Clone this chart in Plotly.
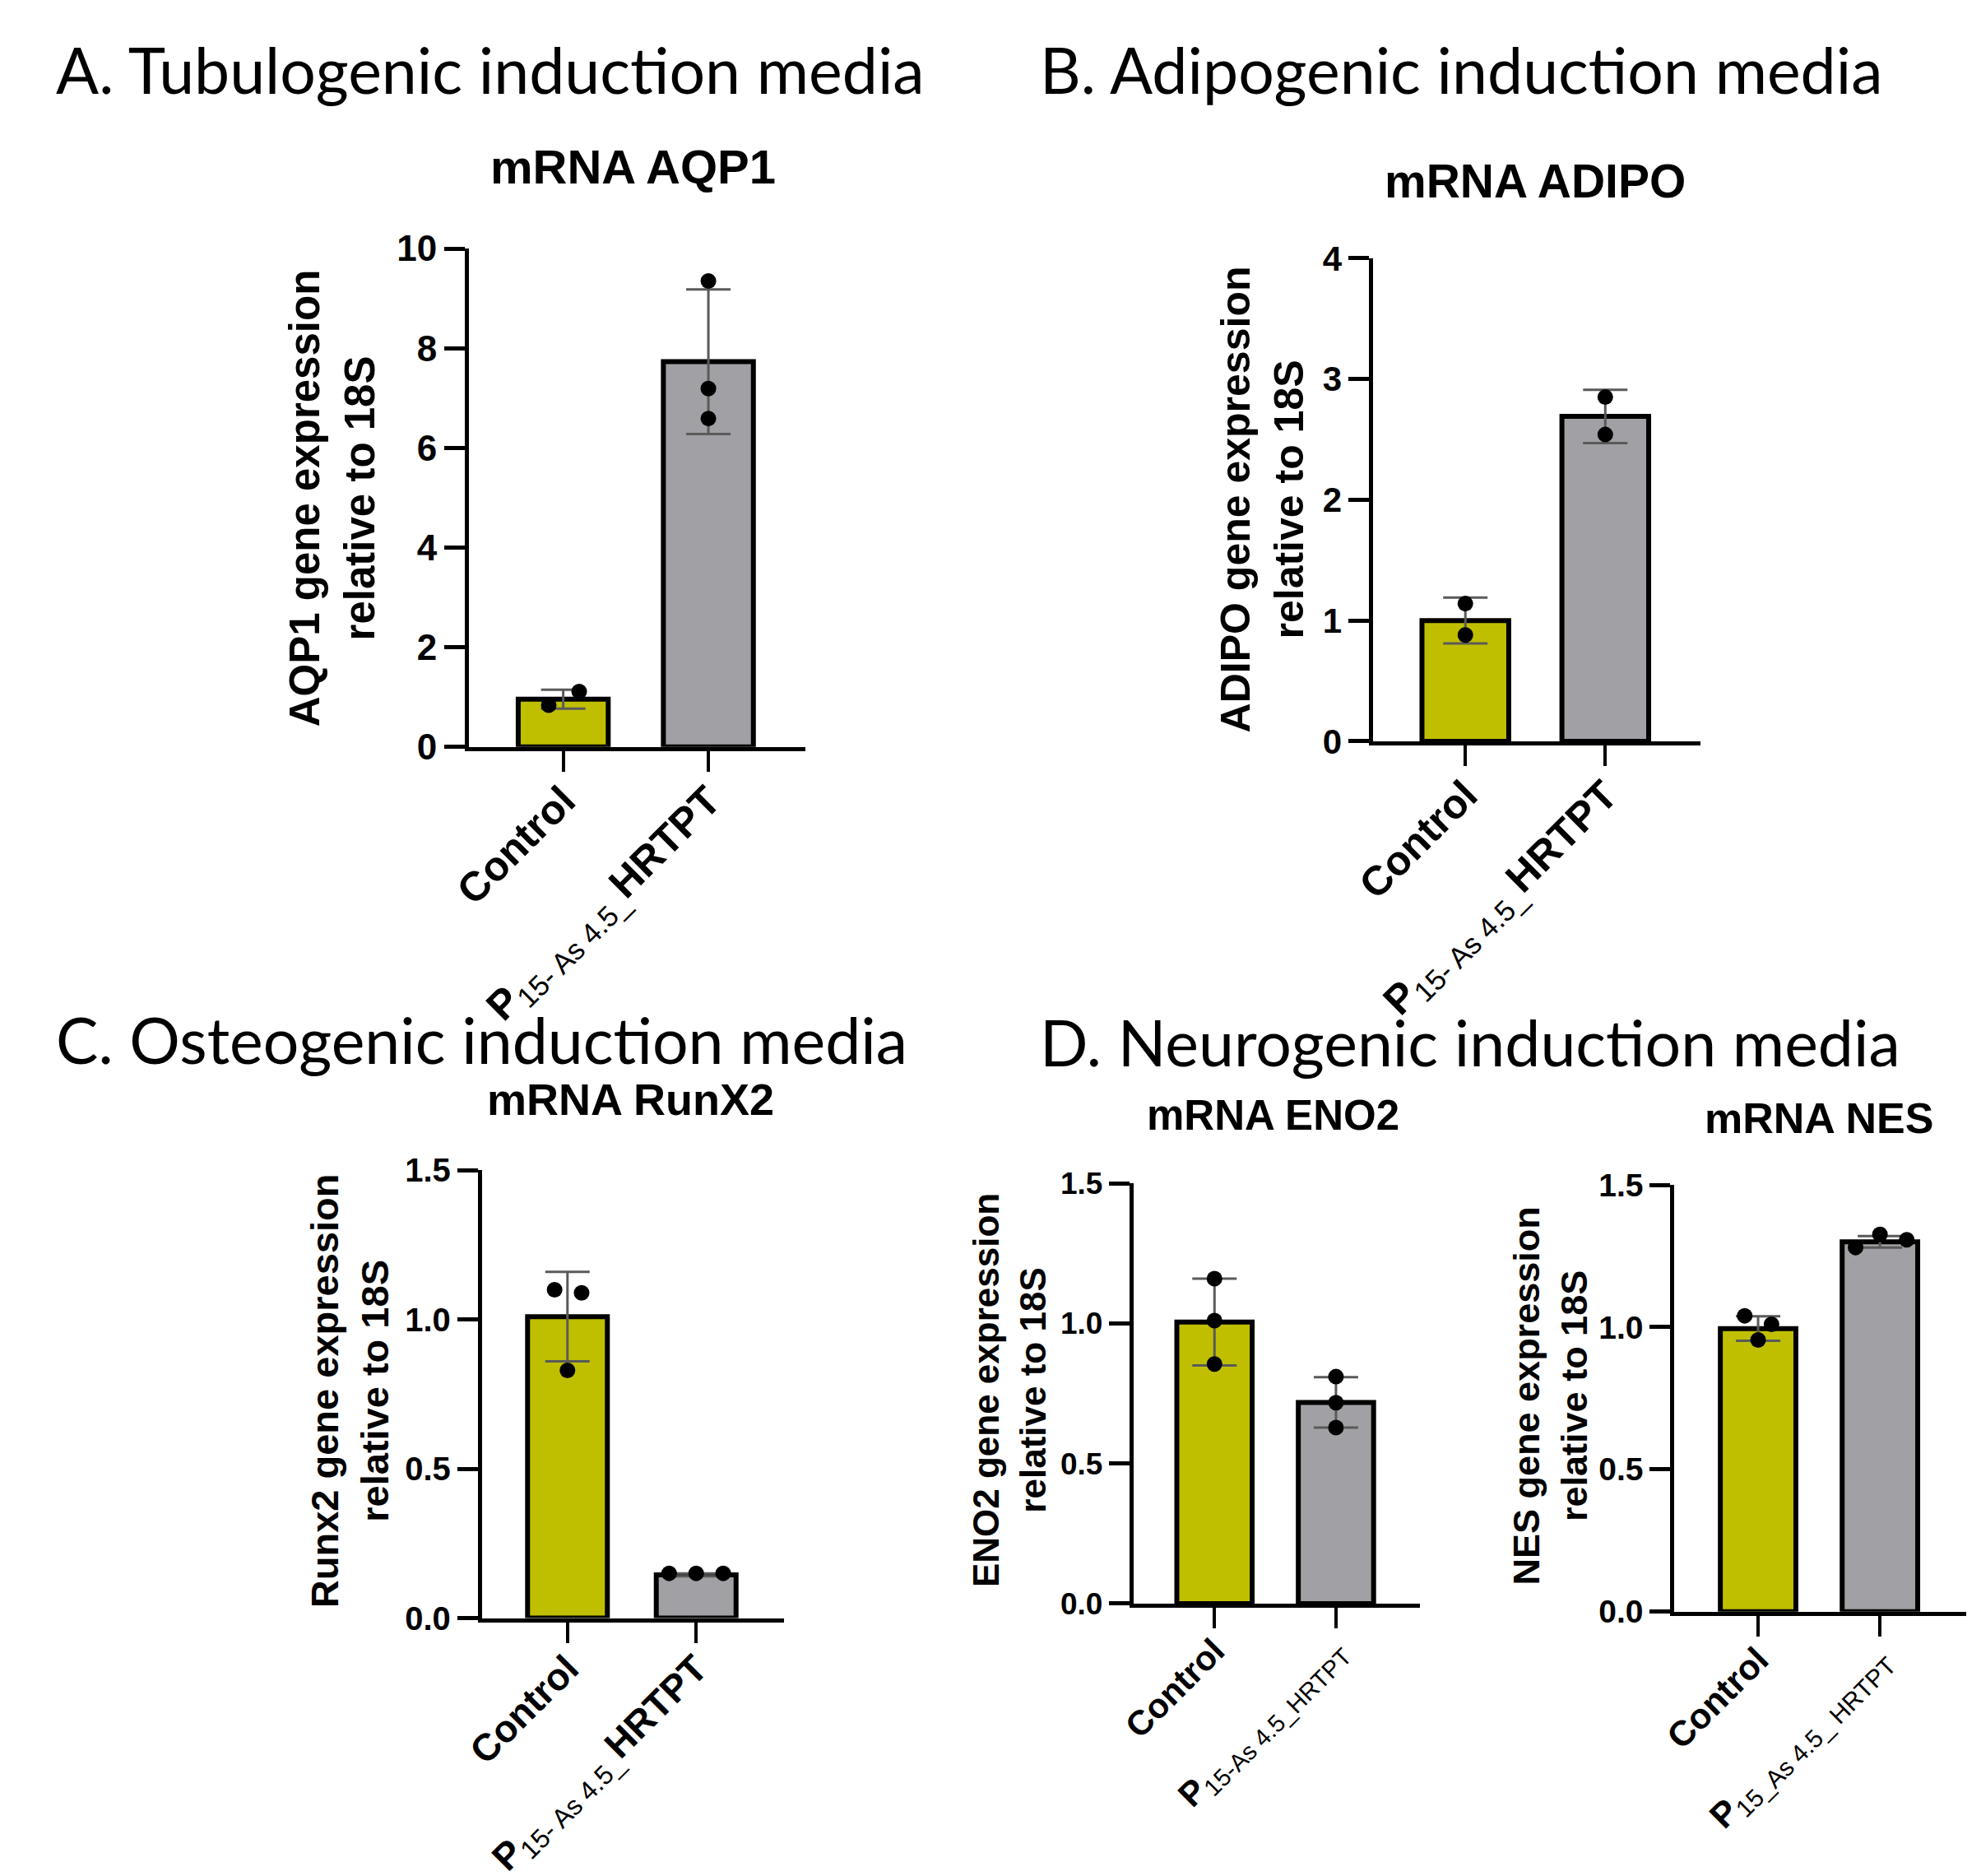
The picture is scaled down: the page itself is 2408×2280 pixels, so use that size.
import plotly.graph_objects as go

W, H = 2408, 2280

YELLOW = "#BFBF00"
GRAY = "#A0A0A5"
ERR = "#5A5A5A"
SANS = "Liberation Sans, Arial, sans-serif"
HEAD = "Lato, Carlito, Calibri, sans-serif"

# values (Control, P15-As4.5_HRTPT)
aqp1_mean = [0.96, 7.73]
aqp1_sd = [0.19, 1.45]
aqp1_ctrl = [0.84, 1.11]
aqp1_treat = [9.35, 7.19, 6.59]

adipo_mean = [1.0, 2.69]
adipo_sd = [0.19, 0.22]
adipo_ctrl = [1.14, 0.88]
adipo_treat = [2.85, 2.54]

runx2_mean = [1.01, 0.145]
runx2_sd = [0.15, 0.005]
runx2_ctrl = [1.10, 1.09, 0.83]
runx2_treat = [0.15, 0.15, 0.15]

eno2_mean = [1.005, 0.718]
eno2_sd = [0.155, 0.09]
eno2_ctrl = [1.16, 1.01, 0.855]
eno2_treat = [0.81, 0.717, 0.628]

nes_mean = [0.995, 1.30]
nes_sd = [0.043, 0.02]
nes_ctrl = [1.04, 1.01, 0.955]
nes_treat = [1.28, 1.326, 1.307]

ticks_a = [0, 2, 4, 6, 8, 10]
ticks_b = [0, 1, 2, 3, 4]
ticks_low = [0.0, 0.5, 1.0, 1.5]

lab_big = ["<b>Control</b>", "<b>P</b><sub>15- As 4.5_</sub><b>HRTPT</b>"]
lab_eno2 = ["<b>Control</b>", "<b>P</b><sub>15-As 4.5_HRTPT</sub>"]
lab_nes = ["<b>Control</b>", "<b>P</b><sub>15_As 4.5_ HRTPT</sub>"]

# panel boxes in pixels: x0, x1 (axis span), y0 (top), y1 (axis line)
panels = [
    dict(mean=aqp1_mean, sd=aqp1_sd, ctrl=aqp1_ctrl, treat=aqp1_treat,
         jc=[-0.10, 0.11], jt=[0, 0, 0],
         box=(541, 955, 275, 894), xr=[-0.65, 1.67], yr=[0, 10],
         yt=ticks_a, ytl=[str(v) for v in ticks_a], labels=lab_big, xfs=50, yfs=44,
         title="mRNA AQP1", tpos=(743, 173), tfs=58,
         ytitle="AQP1 gene expression<br>relative to 18S", ypos=(373, 585), ytfs=51),
    dict(mean=adipo_mean, sd=adipo_sd, ctrl=adipo_ctrl, treat=adipo_treat,
         jc=[0, 0], jt=[0, 0],
         box=(1653, 2055, 287, 887), xr=[-0.657, 1.68], yr=[0, 4],
         yt=ticks_b, ytl=[str(v) for v in ticks_b], labels=lab_big, xfs=50, yfs=42,
         title="mRNA ADIPO", tpos=(1852, 191), tfs=57,
         ytitle="ADIPO gene expression<br>relative to 18S", ypos=(1516, 587), ytfs=50),
    dict(mean=runx2_mean, sd=runx2_sd, ctrl=runx2_ctrl, treat=runx2_treat,
         jc=[-0.10, 0.11, 0], jt=[-0.21, 0, 0.21],
         box=(557, 928, 1420, 1976), xr=[-0.665, 1.68], yr=[0, 1.5],
         yt=ticks_low, ytl=["0.0", "0.5", "1.0", "1.5"], labels=lab_big, xfs=46, yfs=40,
         title="mRNA RunX2", tpos=(740, 1332), tfs=54,
         ytitle="Runx2 gene expression<br>relative to 18S", ypos=(394, 1694), ytfs=47),
    dict(mean=eno2_mean, sd=eno2_sd, ctrl=eno2_ctrl, treat=eno2_treat,
         jc=[0, 0, 0], jt=[0, 0, 0],
         box=(1358, 1710, 1436, 1958), xr=[-0.667, 1.69], yr=[0, 1.5],
         yt=ticks_low, ytl=["0.0", "0.5", "1.0", "1.5"], labels=lab_eno2, xfs=42, yfs=37,
         title="mRNA ENO2", tpos=(1530, 1352), tfs=51,
         ytitle="ENO2 gene expression<br>relative to 18S", ypos=(1205, 1693), ytfs=44),
    dict(mean=nes_mean, sd=nes_sd, ctrl=nes_ctrl, treat=nes_treat,
         jc=[-0.11, 0.11, 0], jt=[-0.2, 0, 0.22],
         box=(2023, 2382, 1438, 1968), xr=[-0.687, 1.71], yr=[0, 1.5],
         yt=ticks_low, ytl=["0.0", "0.5", "1.0", "1.5"], labels=lab_nes, xfs=43, yfs=39,
         title="mRNA NES", tpos=(2201, 1355), tfs=52,
         ytitle="NES gene expression<br>relative to 18S", ypos=(1871, 1700), ytfs=45),
]

fig = go.Figure()
annotations = []
layout_axes = {}

for i, p in enumerate(panels, start=1):
    xa, ya = f"x{i}", f"y{i}"
    fig.add_trace(go.Bar(
        x=[0, 1], y=p["mean"], width=0.62, xaxis=xa, yaxis=ya,
        marker=dict(color=[YELLOW, GRAY], line=dict(color="black", width=6)),
        error_y=dict(type="data", array=p["sd"], color=ERR, thickness=3, width=27),
    ))
    px_ = [0 + d for d in p["jc"]] + [1 + d for d in p["jt"]]
    fig.add_trace(go.Scatter(
        x=px_, y=p["ctrl"] + p["treat"], mode="markers", xaxis=xa, yaxis=ya,
        marker=dict(color="black", size=19), cliponaxis=False,
    ))
    x0, x1, y0, y1 = p["box"]
    layout_axes[f"xaxis{i}"] = dict(
        domain=[x0 / W, x1 / W], range=p["xr"], anchor=ya,
        showline=True, linewidth=5, linecolor="black", showgrid=False, zeroline=False,
        ticks="outside", ticklen=25, tickwidth=4, tickcolor="black",
        tickvals=[0, 1], ticktext=p["labels"], tickangle=-45, ticklabelstandoff=-14,
        tickfont=dict(family=SANS, size=p["xfs"], color="black"),
    )
    layout_axes[f"yaxis{i}"] = dict(
        domain=[1 - y1 / H, 1 - y0 / H], range=p["yr"], anchor=xa,
        showline=True, linewidth=5, linecolor="black", showgrid=False, zeroline=False,
        ticks="outside", ticklen=25, tickwidth=5, tickcolor="black",
        tickvals=p["yt"], ticktext=p["ytl"],
        tickfont=dict(family=SANS, size=p["yfs"], color="black", weight="bold"),
    )
    annotations.append(dict(
        text=f"<b>{p['title']}</b>", x=p["tpos"][0] / W, y=1 - p["tpos"][1] / H,
        xref="paper", yref="paper", xanchor="center", yanchor="middle", showarrow=False,
        font=dict(family=SANS, size=p["tfs"], color="black"),
    ))
    annotations.append(dict(
        text=f"<b>{p['ytitle']}</b>", x=p["ypos"][0] / W, y=1 - p["ypos"][1] / H,
        xref="paper", yref="paper", xanchor="center", yanchor="middle", showarrow=False,
        textangle=-90, font=dict(family=SANS, size=p["ytfs"], color="black"),
    ))

headings = [
    ("A. Tubulogenic induction media", 31, 52),
    ("B. Adipogenic induction media", 1241, 52),
    ("C. Osteogenic induction media", 31, 1257),
    ("D. Neurogenic induction media", 1241, 1260),
]
for txt, hx, hy in headings:
    annotations.append(dict(
        text=txt, x=hx / W, y=1 - hy / H, xref="paper", yref="paper",
        xanchor="left", yanchor="middle", showarrow=False,
        font=dict(family=HEAD, size=77, color="black"),
    ))

fig.update_layout(
    width=W, height=H, margin=dict(l=0, r=0, t=0, b=0),
    paper_bgcolor="white", plot_bgcolor="white", showlegend=False,
    annotations=annotations, **layout_axes,
)

fig.write_html("out.html")
